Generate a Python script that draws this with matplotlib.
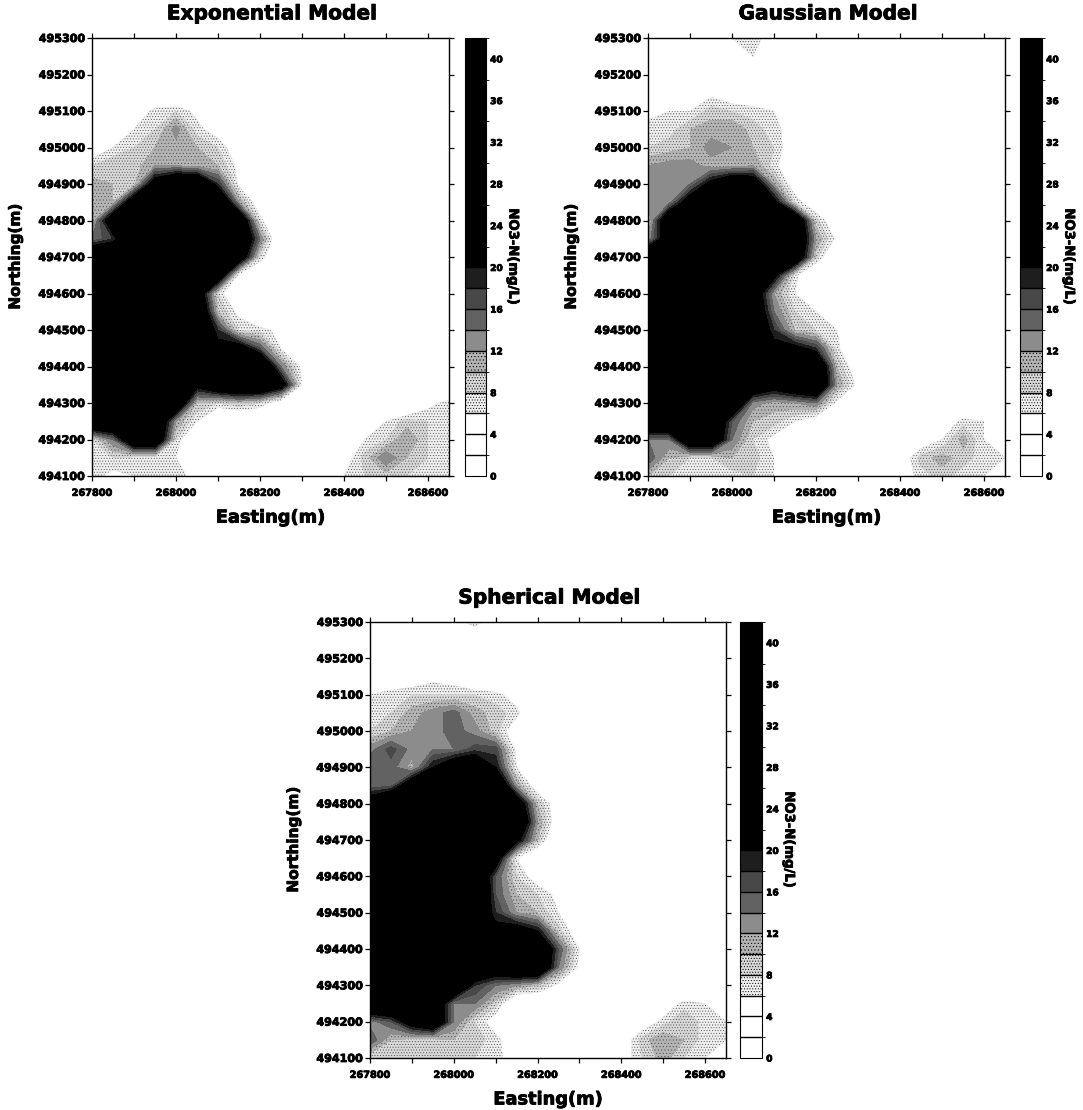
import matplotlib
matplotlib.use("Agg")
import matplotlib.pyplot as plt
import matplotlib.patheffects as pe
from matplotlib.colors import ListedColormap, BoundaryNorm
import numpy as np

W, H = 1083, 1110

# grid nodes, metres
easting = list(range(267800, 268700, 50))
northing = list(range(495300, 494050, -50))
levels = list(range(0, 44, 2))
greys = ["#ffffff"] * 3 + ["#f0f0f0", "#d8d8d8", "#b4b4b4", "#8c8c8c",
                           "#626262", "#484848", "#1e1e1e"] + ["#000000"] * 11
stipple = [None] * 3 + ["......", "......", "....."] + [None] * 15
cbar_ticks = list(range(0, 44, 4))
x_ticks = [267800, 268000, 268200, 268400, 268600]
y_ticks = list(range(494100, 495400, 100))

# NO3-N (mg/L), rows from north to south
exponential = [
    [0, 0, 0, 0, 6, 0, 0, 0, 0, 0, 0, 0, 0, 0, 0, 0, 0, 0],
    [0, 0, 0, 0, 0, 0, 0, 0, 0, 0, 0, 0, 0, 0, 0, 0, 0, 5],
    [0, 0, 0, 0, 0, 0, 0, 0, 0, 0, 0, 0, 0, 0, 0, 0, 0, 5],
    [0, 0, 0, 0, 0, 0, 0, 0, 0, 0, 0, 0, 0, 0, 0, 0, 0, 0],
    [0, 0, 3, 7, 8, 5, 0, 0, 0, 0, 0, 0, 0, 0, 0, 0, 0, 0],
    [0, 0, 6, 8, 13, 7, 4, 0, 0, 0, 0, 0, 0, 0, 0, 0, 0, 0],
    [3, 6, 8, 10, 11, 10, 8, 3, 0, 0, 0, 0, 0, 0, 0, 0, 0, 0],
    [8, 10, 9, 12, 12, 11, 10, 5, 0, 0, 0, 0, 0, 0, 0, 0, 0, 0],
    [11, 10, 9, 24, 30, 30, 18, 5, 0, 0, 0, 0, 0, 0, 0, 0, 0, 0],
    [12, 10, 26, 32, 32, 32, 30, 12, 3, 0, 0, 0, 0, 0, 0, 0, 0, 0],
    [10, 26, 32, 32, 32, 32, 32, 28, 7, 0, 0, 0, 0, 0, 0, 0, 0, 0],
    [14, 18, 30, 32, 32, 32, 32, 30, 14, 0, 0, 0, 0, 0, 0, 0, 0, 0],
    [30, 30, 32, 32, 32, 32, 32, 26, 8, 0, 0, 0, 0, 0, 0, 0, 0, 0],
    [32, 32, 32, 32, 32, 32, 26, 5, 0, 0, 0, 0, 0, 0, 0, 0, 0, 0],
    [32, 32, 32, 32, 32, 26, 8, 0, 0, 0, 0, 0, 0, 0, 0, 0, 0, 0],
    [32, 32, 32, 32, 32, 30, 10, 5, 0, 0, 0, 0, 0, 0, 0, 0, 0, 0],
    [32, 32, 32, 32, 32, 30, 18, 8, 7, 5, 0, 0, 0, 0, 0, 0, 0, 0],
    [32, 32, 32, 32, 32, 30, 22, 24, 16, 6, 0, 0, 0, 0, 0, 0, 0, 0],
    [32, 32, 32, 32, 32, 30, 26, 30, 30, 14, 5, 0, 0, 0, 0, 0, 0, 0],
    [32, 32, 32, 32, 30, 22, 28, 30, 30, 24, 6, 0, 0, 0, 0, 0, 0, 0],
    [32, 32, 32, 32, 28, 10, 8, 10, 8, 3, 0, 0, 0, 0, 0, 0, 5, 7],
    [30, 30, 30, 30, 12, 6, 0, 0, 0, 0, 0, 0, 0, 3, 6, 9, 8, 7],
    [8, 14, 28, 28, 8, 0, 0, 0, 0, 0, 0, 0, 0, 6, 8, 12, 8, 8],
    [8, 8, 7, 7, 6, 3, 0, 0, 0, 0, 0, 0, 4, 9, 14, 10, 8, 8],
    [7, 5, 6, 7, 7, 5, 0, 0, 0, 0, 0, 0, 6, 8, 9, 8, 8, 8],
]
gaussian = [
    [0, 0, 0, 0, 6, 8, 3, 0, 0, 0, 0, 0, 0, 0, 0, 0, 0, 0],
    [0, 0, 0, 0, 3, 6, 3, 0, 3, 0, 0, 0, 0, 0, 0, 0, 0, 0],
    [0, 0, 0, 3, 0, 0, 0, 3, 0, 0, 0, 0, 0, 0, 0, 0, 0, 0],
    [3, 0, 3, 5, 3, 3, 0, 0, 0, 0, 0, 0, 0, 0, 0, 0, 3, 3],
    [5, 6, 6, 9, 8, 7, 6, 0, 0, 0, 0, 0, 0, 0, 0, 0, 0, 5],
    [7, 7, 10, 11, 12, 9, 7, 4, 0, 0, 0, 0, 0, 0, 0, 0, 0, 0],
    [8, 9, 10, 13, 12, 10, 8, 3, 0, 0, 0, 0, 0, 0, 0, 0, 0, 0],
    [12, 13, 13, 11, 11, 12, 7, 2, 0, 0, 0, 0, 0, 0, 0, 0, 0, 0],
    [14, 14, 14, 22, 28, 26, 12, 3, 0, 0, 0, 0, 0, 0, 0, 0, 0, 0],
    [13, 13, 24, 30, 32, 32, 22, 8, 2, 0, 0, 0, 0, 0, 0, 0, 0, 0],
    [9, 28, 32, 32, 32, 32, 32, 28, 9, 2, 0, 0, 0, 0, 0, 0, 0, 0],
    [12, 26, 32, 32, 32, 32, 32, 30, 12, 5, 0, 0, 0, 0, 0, 0, 0, 0],
    [30, 30, 32, 32, 32, 32, 32, 28, 9, 0, 0, 0, 0, 0, 0, 0, 0, 0],
    [32, 32, 32, 32, 32, 32, 22, 7, 0, 0, 0, 0, 0, 0, 0, 0, 0, 0],
    [32, 32, 32, 32, 32, 26, 12, 6, 0, 0, 0, 0, 0, 0, 0, 0, 0, 0],
    [32, 32, 32, 32, 32, 28, 14, 8, 6, 4, 0, 0, 0, 0, 0, 0, 0, 0],
    [32, 32, 32, 32, 32, 28, 18, 10, 8, 6, 0, 0, 0, 0, 0, 0, 0, 0],
    [32, 32, 32, 32, 32, 30, 22, 22, 18, 7, 0, 0, 0, 0, 0, 0, 0, 0],
    [32, 32, 32, 32, 32, 30, 28, 30, 30, 10, 3, 0, 0, 0, 0, 0, 0, 0],
    [32, 32, 32, 32, 32, 28, 24, 28, 30, 12, 5, 0, 0, 0, 0, 0, 0, 0],
    [32, 32, 32, 32, 30, 13, 11, 12, 14, 5, 0, 0, 0, 0, 0, 0, 0, 0],
    [30, 30, 30, 30, 16, 10, 9, 6, 3, 0, 0, 0, 0, 0, 3, 7, 6, 6],
    [14, 14, 28, 28, 14, 8, 5, 0, 0, 0, 0, 0, 0, 3, 6, 11, 6, 6],
    [16, 10, 8, 8, 10, 9, 6, 3, 3, 0, 0, 0, 3, 9, 11, 9, 7, 6],
    [10, 8, 8, 8, 7, 8, 6, 5, 0, 0, 0, 0, 4, 7, 9, 7, 6, 6],
]
spherical = [
    [0, 0, 0, 0, 5, 7, 4, 0, 0, 0, 0, 0, 0, 0, 0, 0, 0, 0],
    [0, 0, 0, 0, 4, 3, 0, 0, 0, 0, 0, 0, 0, 0, 0, 0, 0, 0],
    [3, 0, 0, 0, 0, 0, 0, 0, 0, 0, 0, 0, 0, 0, 0, 0, 0, 0],
    [3, 3, 3, 5, 4, 0, 0, 0, 0, 0, 0, 0, 0, 0, 0, 0, 0, 0],
    [6, 7, 8, 8, 8, 8, 7, 4, 0, 0, 0, 0, 0, 0, 0, 0, 0, 0],
    [7, 8, 11, 13, 15, 11, 9, 7, 0, 0, 0, 0, 0, 0, 0, 0, 0, 0],
    [8, 10, 12, 13, 15, 13, 9, 3, 0, 0, 0, 0, 0, 0, 0, 0, 0, 0],
    [13, 17, 13, 14, 14, 17, 17, 5, 0, 0, 0, 0, 0, 0, 0, 0, 0, 0],
    [16, 15, 11, 20, 26, 28, 20, 6, 0, 0, 0, 0, 0, 0, 0, 0, 0, 0],
    [15, 15, 26, 32, 32, 32, 30, 12, 3, 0, 0, 0, 0, 0, 0, 0, 0, 0],
    [24, 32, 32, 32, 32, 32, 32, 26, 10, 3, 0, 0, 0, 0, 0, 0, 0, 0],
    [32, 32, 32, 32, 32, 32, 32, 30, 12, 3, 0, 0, 0, 0, 0, 0, 0, 0],
    [32, 32, 32, 32, 32, 32, 32, 22, 10, 0, 0, 0, 0, 0, 0, 0, 0, 0],
    [32, 32, 32, 32, 32, 32, 24, 6, 0, 0, 0, 0, 0, 0, 0, 0, 0, 0],
    [32, 32, 32, 32, 32, 30, 16, 8, 4, 0, 0, 0, 0, 0, 0, 0, 0, 0],
    [32, 32, 32, 32, 32, 32, 16, 10, 8, 5, 0, 0, 0, 0, 0, 0, 0, 0],
    [32, 32, 32, 32, 32, 28, 18, 12, 10, 6, 0, 0, 0, 0, 0, 0, 0, 0],
    [32, 32, 32, 32, 32, 30, 22, 24, 20, 9, 3, 0, 0, 0, 0, 0, 0, 0],
    [32, 32, 32, 32, 32, 30, 28, 30, 30, 16, 6, 0, 0, 0, 0, 0, 0, 0],
    [32, 32, 32, 32, 32, 28, 26, 30, 30, 14, 5, 0, 0, 0, 0, 0, 0, 0],
    [32, 32, 32, 32, 30, 18, 14, 12, 10, 5, 0, 0, 0, 0, 0, 0, 0, 0],
    [30, 30, 30, 28, 14, 14, 9, 0, 0, 0, 0, 0, 0, 0, 3, 7, 6, 6],
    [13, 16, 24, 28, 14, 8, 4, 0, 0, 0, 0, 0, 0, 3, 7, 10, 7, 6],
    [16, 10, 9, 9, 10, 9, 7, 3, 0, 0, 0, 0, 3, 9, 12, 10, 7, 6],
    [8, 9, 9, 9, 9, 8, 7, 4, 0, 0, 0, 0, 4, 8, 11, 8, 6, 6],
]

plt.rcParams["font.family"] = "DejaVu Sans"
plt.rcParams["font.weight"] = "bold"
plt.rcParams["hatch.linewidth"] = 0.4
plt.rcParams["hatch.color"] = "#555555"

cmap = ListedColormap(greys)
norm = BoundaryNorm(levels, cmap.N)
heavy = [pe.withStroke(linewidth=0.6, foreground="black")]


def px_axes(fig, left, right, top, bottom):
    return fig.add_axes([left / W, 1 - bottom / H, (right - left) / W, (bottom - top) / H])


def draw_panel(fig, values, title, box, cbox):
    ax = px_axes(fig, *box)
    cs = ax.contourf(easting, northing, np.array(values), levels=levels, cmap=cmap, norm=norm,
                     hatches=stipple)
    ax.set_xlim(267800, 268650)
    ax.set_ylim(494100, 495300)
    ax.set_xticks(x_ticks)
    ax.set_xticks(list(range(267900, 268700, 200)), minor=True)
    ax.set_yticks(y_ticks)
    ax.ticklabel_format(useOffset=False, style="plain")
    ax.tick_params(axis="both", which="both", top=True, right=True, length=3.5, width=0.9)
    ax.tick_params(axis="x", labelsize=7, pad=5)
    ax.tick_params(axis="y", labelsize=8, pad=1.5)
    for s in ax.spines.values():
        s.set_linewidth(1.0)
    t = ax.text(0.505, 1.055, title, transform=ax.transAxes, ha="center", va="center",
                fontsize=14.5, fontweight="bold")
    xl = ax.set_xlabel("Easting(m)", fontsize=12.8, fontweight="bold")
    ax.xaxis.set_label_coords(0.5, -0.095)
    xl.set_va("center")
    yl = ax.set_ylabel("Northing(m)", fontsize=11, fontweight="bold")
    ax.yaxis.set_label_coords(-0.215, 0.5)
    yl.set_va("center")
    for item in [t, xl, yl] + ax.get_xticklabels() + ax.get_yticklabels():
        item.set_path_effects(heavy)

    cax = px_axes(fig, *cbox)
    cb = fig.colorbar(cs, cax=cax, ticks=cbar_ticks, drawedges=True)
    cb.dividers.set_color("black")
    cb.dividers.set_linewidth(1.0)
    cb.ax.tick_params(length=0, labelsize=6.5, pad=3)
    cb.set_label("NO3-N(mg/L)", rotation=270, fontsize=9.5, fontweight="bold", labelpad=12)
    cb.ax.set_ylim(0, 42)
    for item in cb.ax.get_yticklabels() + [cb.ax.yaxis.label]:
        item.set_path_effects(heavy)


fig = plt.figure(figsize=(W / 100, H / 100), dpi=100)
draw_panel(fig, exponential, "Exponential Model", (92, 449, 38, 476), (465, 486, 38, 476))
draw_panel(fig, gaussian, "Gaussian Model", (648, 1005, 38, 476), (1020, 1042, 38, 476))
draw_panel(fig, spherical, "Spherical Model", (370, 726, 622, 1058), (740, 762, 622, 1058))
fig.savefig("out.png", dpi=100)
